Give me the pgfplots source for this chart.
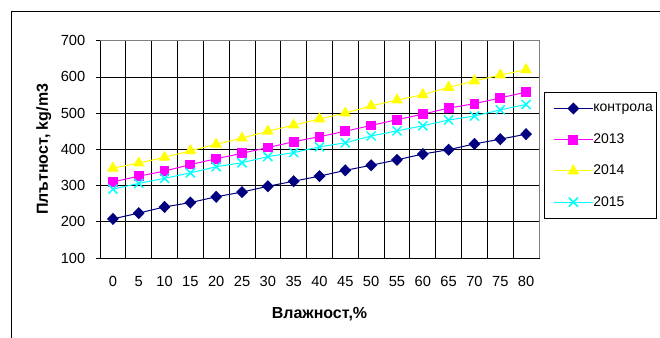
\documentclass[border=0pt]{standalone}
\usepackage{pgfplots}
\pgfplotsset{compat=1.18}
\usepackage{pgfplotstable}
\usepackage{fontspec}
\setmainfont{Liberation Sans}

\definecolor{kontrola}{HTML}{000080}
\definecolor{y2013}{HTML}{FF00FF}
\definecolor{y2014}{HTML}{FFFF00}
\definecolor{y2015}{HTML}{00FFFF}
\definecolor{borderg}{HTML}{808080}

% density (kg/m3) against moisture; column idx is the category position 0..16 (0%,5%,...,80%)
\pgfplotstableread{
idx  k    a13  a14  a15
0    208  310  348  290
1    224  326  362  306
2    241  340  378  320
3    253  358  396  335
4    269  374  414  352
5    282  389  431  363
6    298  405  450  380
7    312  421  467  391
8    326  435  484  407
9    342  450  500  418
10   356  466  520  437
11   371  482  536  451
12   387  497  551  465
13   399  514  571  481
14   415  526  589  492
15   428  542  605  509
16   442  558  620  524
}\density

\begin{document}
\begin{tikzpicture}[x=0.75pt,y=0.75pt]
\useasboundingbox (0,0) rectangle (660,337);
% chart area frame
\draw[black, line width=0.75pt] (11,-5) -- (11,326) -- (670,326);
\begin{axis}[
  at={(75pt,59.25pt)}, anchor=south west,
  scale only axis, width=329.25pt, height=163pt,
  font=\fontsize{11}{13}\selectfont,
  /pgf/number format/assume math mode=true,
  xmin=-0.5, xmax=16.5, ymin=100, ymax=700,
  xtick={0,...,16},
  xticklabels={0,5,10,15,20,25,30,35,40,45,50,55,60,65,70,75,80},
  minor xtick={-0.5,0.5,...,16.5},
  ytick={100,200,...,700},
  xminorgrids, ymajorgrids,
  grid style={black, line width=0.6pt},
  minor grid style={black, line width=0.6pt},
  tick pos=left, tick align=outside,
  x tick style={draw=none},
  minor x tick style={black, line width=0.6pt},
  minor tick length=3pt,
  y tick style={black, line width=0.6pt},
  major tick length=3pt,
  axis line style={black, line width=0.6pt},
  xticklabel style={yshift=-7.5pt},
  yticklabel style={xshift=-4.5pt},
  xlabel={\textbf{Влажност,\%}},
  ylabel={\textbf{Плътност, kg/m3}},
  label style={font=\fontsize{12}{14}\selectfont},
  xlabel style={at={(axis description cs:0.5,-0.258)}, anchor=center},
  ylabel style={at={(axis description cs:-0.128,0.5)}, anchor=center},
  legend style={at={(1.2695,0.765)}, anchor=north east, draw=black,
    line width=0.75pt, inner xsep=3pt, inner ysep=0.5pt, row sep=0pt,
    nodes={minimum height=23.4pt, inner sep=0pt},
    font=\fontsize{10.5}{12}\selectfont},
  legend cell align=left,
  legend image code/.code={%
    \path (-4pt,0pt);
    \draw[mark repeat=2,mark phase=2] plot coordinates {(0pt,0pt) (14.6pt,0pt) (29.25pt,0pt)};},
  every axis plot/.append style={line width=0.75pt},
  after end axis/.code={
    \draw[borderg, line width=0.6pt] (rel axis cs:0,1) -- (rel axis cs:1,1) -- (rel axis cs:1,0);
    \draw[black, line width=0.6pt] (rel axis cs:0,1) -- (rel axis cs:0,0) -- (rel axis cs:1,0);
  },
]
\addplot[kontrola, mark=diamond*, mark size=4pt, mark options={xscale=1.3, solid}] table[x=idx, y=k] {\density};
\addlegendentry{контрола}
\addplot[y2013, mark=square*, mark size=3.3pt] table[x=idx, y=a13] {\density};
\addlegendentry{2013}
\addplot[y2014, mark=triangle*, mark size=4.3pt] table[x=idx, y=a14] {\density};
\addlegendentry{2014}
\addplot[y2015, mark=x, mark size=4.8pt, mark options={line width=1.1pt}] table[x=idx, y=a15] {\density};
\addlegendentry{2015}
\end{axis}
\end{tikzpicture}
\end{document}
